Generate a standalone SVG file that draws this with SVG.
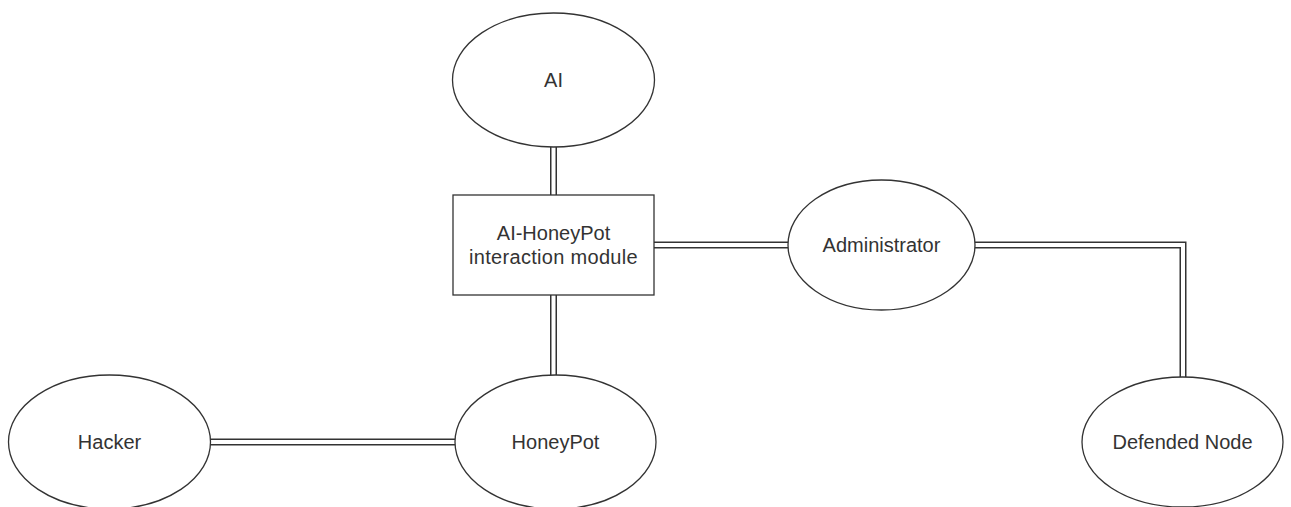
<svg xmlns="http://www.w3.org/2000/svg" width="1291" height="507" viewBox="0 0 1291 507">
<style>
.n{fill:#fff;stroke:#333;stroke-width:1.3}
.t{font-family:"Liberation Sans",Arial,sans-serif;font-size:20px;fill:#333;text-anchor:middle;dominant-baseline:central}
.o{fill:none;stroke:#333;stroke-width:7}
.i{fill:none;stroke:#fff;stroke-width:4}
</style>
<rect width="1291" height="507" fill="#fff"/>
<g id="connectors">
<path class="o" d="M553.5 147V195M553.5 295V375M654 245H788M975 245H1183V377M210 442H455"/>
<path class="i" d="M553.5 146V196M553.5 294V376M653 245H789M974 245H1183V378M209 442H456"/>
</g>
<g id="ai"><ellipse class="n" cx="553.5" cy="80" rx="101" ry="67"/><text class="t" x="553.5" y="80">AI</text></g>
<g id="module"><rect class="n" x="453" y="195" width="201" height="100"/><text class="t" x="553.5" y="233">AI-HoneyPot</text><text class="t" x="553.5" y="257" letter-spacing="0.3">interaction module</text></g>
<g id="administrator"><ellipse class="n" cx="881.5" cy="245" rx="93.5" ry="65"/><text class="t" x="881.5" y="245">Administrator</text></g>
<g id="hacker"><ellipse class="n" cx="109.5" cy="442" rx="101" ry="67"/><text class="t" x="109.5" y="442">Hacker</text></g>
<g id="honeypot"><ellipse class="n" cx="555.5" cy="442" rx="100.5" ry="67"/><text class="t" x="555.5" y="442">HoneyPot</text></g>
<g id="defended"><ellipse class="n" cx="1182.5" cy="442" rx="100.5" ry="65"/><text class="t" x="1182.5" y="442">Defended Node</text></g>
</svg>
